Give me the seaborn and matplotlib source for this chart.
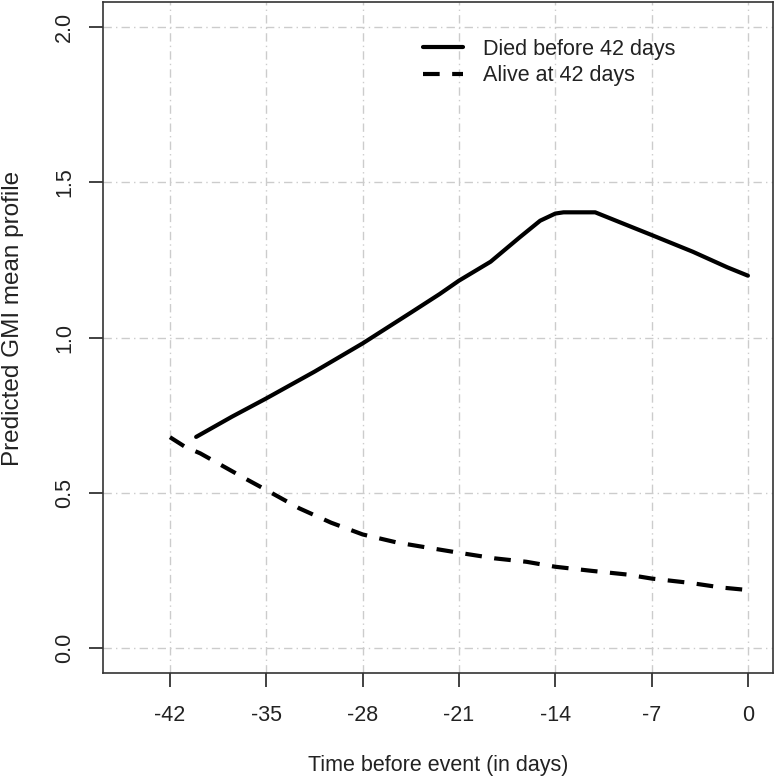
import matplotlib
matplotlib.use("Agg")
import matplotlib.pyplot as plt
import seaborn as sns

# values
days_died = [-40.1, -37.5, -35, -31.5, -28, -24.5, -22.4, -21, -18.7, -16.6,
             -15.1, -14, -13.4, -11.1, -8.8, -7, -4.0, -1.5, 0]
gmi_died = [0.68, 0.745, 0.804, 0.89, 0.981, 1.08, 1.14, 1.183, 1.244, 1.322,
            1.376, 1.399, 1.403, 1.403, 1.362, 1.330, 1.276, 1.226, 1.199]

days_alive = [-42, -40.9, -39.8, -36.7, -35, -32.6, -30.3, -28, -25.5, -23.2,
              -21, -18.4, -16.1, -14, -11.4, -8.8, -7, -4.2, -1.9, 0]
gmi_alive = [0.679, 0.648, 0.627, 0.550, 0.509, 0.450, 0.404, 0.366, 0.340, 0.323,
             0.307, 0.289, 0.278, 0.262, 0.249, 0.237, 0.224, 0.210, 0.195, 0.187]

x_ticks = [-42, -35, -28, -21, -14, -7, 0]
y_ticks = [0.0, 0.5, 1.0, 1.5, 2.0]

sns.set_theme(style="white")
plt.rcParams['font.family'] = ['Liberation Sans', 'DejaVu Sans']

fig = plt.figure(figsize=(7.76, 7.8), dpi=100)
fig.patch.set_facecolor("white")
ax = fig.add_axes([0.1327, 0.1372, 0.8634, 0.8602])

for xt in x_ticks:
    ax.axvline(xt, color="#cccccc", lw=1, ls=(0, (6, 3, 1, 3)), zorder=0)
for yt in y_ticks:
    ax.axhline(yt, color="#cccccc", lw=1, ls=(0, (6, 3, 1, 3)), zorder=0)

sns.lineplot(x=days_died, y=gmi_died, ax=ax, color="black", lw=3,
             label="Died before 42 days")
sns.lineplot(x=days_alive, y=gmi_alive, ax=ax, color="black", lw=3,
             ls=(0, (4, 3)), label="Alive at 42 days")

ax.set_xlim(-46.87, 1.82)
ax.set_ylim(-0.08, 2.08)
ax.set_xticks(x_ticks)
ax.set_xticklabels([str(v) for v in x_ticks])
ax.set_yticks(y_ticks)
ax.set_yticklabels([f"{v:.1f}" for v in y_ticks], rotation=90, va="center")

ax.tick_params(axis="both", which="major", direction="out", length=10,
               width=1.3, color="#333333", labelsize=15.5, labelcolor="#222222")
ax.tick_params(axis="x", pad=13, bottom=True)
ax.tick_params(axis="y", pad=10, left=True)

for s in ax.spines.values():
    s.set_color("#333333")
    s.set_linewidth(1.2)

ax.set_xlabel("Time before event (in days)", fontsize=15.5, color="#222222")
ax.set_ylabel("Predicted GMI mean profile", fontsize=17.5, color="#222222")
ax.xaxis.set_label_coords(0.5, -0.122)
ax.yaxis.set_label_coords(-0.118, 0.529)

leg = ax.legend(loc="upper left", bbox_to_anchor=(0.4776, 0.945), frameon=False,
                fontsize=15.5, handlelength=1.86, handletextpad=0.93,
                labelspacing=0.25, borderpad=0, borderaxespad=0)
for t in leg.get_texts():
    t.set_color("#222222")

fig.savefig("out.png", dpi=100)
